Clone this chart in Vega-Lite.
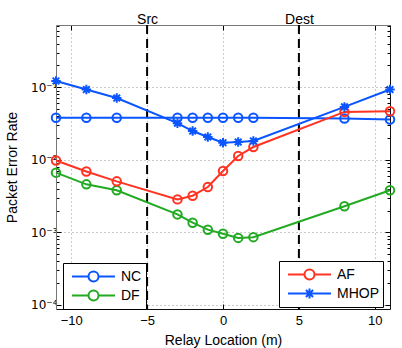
{
  "$schema": "https://vega.github.io/schema/vega-lite/v6.json",
  "autosize": {"type": "none"},
  "width": 334,
  "height": 284,
  "padding": {"left": 56, "top": 25, "right": 12, "bottom": 39},
  "config": {
    "font": "Liberation Sans",
    "view": {"stroke": null},
    "axis": {"labelFont": "Liberation Sans", "titleFont": "Liberation Sans", "labelColor": "#000", "titleColor": "#000", "titleFontWeight": "normal", "titleFontSize": 14, "labelFontSize": 13},
    "legend": {"labelFont": "Liberation Sans", "labelFontSize": 14, "labelColor": "#000"}
  },
  "datasets": {
    "pe": [
      {"x": -11, "v": 0.038, "s": "NC"}, {"x": -9, "v": 0.038, "s": "NC"}, {"x": -7, "v": 0.038, "s": "NC"},
      {"x": -3, "v": 0.038, "s": "NC"}, {"x": -2, "v": 0.038, "s": "NC"}, {"x": -1, "v": 0.038, "s": "NC"},
      {"x": 0, "v": 0.038, "s": "NC"}, {"x": 1, "v": 0.038, "s": "NC"}, {"x": 2, "v": 0.038, "s": "NC"},
      {"x": 8, "v": 0.037, "s": "NC"}, {"x": 11, "v": 0.036, "s": "NC"},
      {"x": -11, "v": 0.00665, "s": "DF"}, {"x": -9, "v": 0.00459, "s": "DF"}, {"x": -7, "v": 0.0038, "s": "DF"},
      {"x": -3, "v": 0.00177, "s": "DF"}, {"x": -2, "v": 0.00136, "s": "DF"}, {"x": -1, "v": 0.00109, "s": "DF"},
      {"x": 0, "v": 0.00096, "s": "DF"}, {"x": 1, "v": 0.00084, "s": "DF"}, {"x": 2, "v": 0.00086, "s": "DF"},
      {"x": 8, "v": 0.00229, "s": "DF"}, {"x": 11, "v": 0.0038, "s": "DF"},
      {"x": -11, "v": 0.0098, "s": "AF"}, {"x": -9, "v": 0.0069, "s": "AF"}, {"x": -7, "v": 0.00505, "s": "AF"},
      {"x": -3, "v": 0.00285, "s": "AF"}, {"x": -2, "v": 0.0032, "s": "AF"}, {"x": -1, "v": 0.00422, "s": "AF"},
      {"x": 0, "v": 0.007, "s": "AF"}, {"x": 1, "v": 0.0113, "s": "AF"}, {"x": 2, "v": 0.015, "s": "AF"},
      {"x": 8, "v": 0.0457, "s": "AF"}, {"x": 11, "v": 0.0467, "s": "AF"},
      {"x": -11, "v": 0.122, "s": "MHOP"}, {"x": -9, "v": 0.093, "s": "MHOP"}, {"x": -7, "v": 0.071, "s": "MHOP"},
      {"x": -3, "v": 0.032, "s": "MHOP"}, {"x": -2, "v": 0.0249, "s": "MHOP"}, {"x": -1, "v": 0.0206, "s": "MHOP"},
      {"x": 0, "v": 0.0172, "s": "MHOP"}, {"x": 1, "v": 0.0176, "s": "MHOP"}, {"x": 2, "v": 0.0182, "s": "MHOP"},
      {"x": 8, "v": 0.0536, "s": "MHOP"}, {"x": 11, "v": 0.093, "s": "MHOP"}
    ],
    "marks": [{"x": -5, "name": "Src"}, {"x": 5, "name": "Dest"}]
  },
  "resolve": {
    "scale": {"color": "independent"},
    "axis": {"x": "independent", "y": "independent"},
    "legend": {"color": "independent"}
  },
  "layer": [
    {
      "data": {"name": "marks"},
      "mark": {"type": "rule", "color": "#000", "strokeWidth": 2, "strokeDash": [9, 5]},
      "encoding": {
        "x": {"field": "x", "type": "quantitative", "scale": {"domain": [-11, 11], "nice": false, "zero": false}, "axis": null}
      }
    },
    {
      "data": {"name": "pe"},
      "transform": [{"filter": "datum.s === 'NC' || datum.s === 'DF'"}],
      "encoding": {
        "x": {
          "field": "x", "type": "quantitative",
          "scale": {"domain": [-11, 11], "nice": false, "zero": false},
          "axis": {
            "orient": "bottom", "title": "Relay Location (m)", "values": [-10, -5, 0, 5, 10],
            "labelExpr": "datum.value < 0 ? '\u2212' + abs(datum.value) : '' + datum.value",
            "tickSize": -5, "tickColor": "#000", "labelPadding": 10,
            "domainColor": "#111", "domainWidth": 1,
            "grid": true, "gridDash": [1, 3], "gridColor": "#999", "gridWidth": 1,
            "titleY": 31, "titleBaseline": "middle"
          }
        },
        "y": {
          "field": "v", "type": "quantitative",
          "scale": {"type": "log", "domain": [0.000088, 0.72], "nice": false},
          "axis": {
            "orient": "left", "title": "Packet Error Rate",
            "values": [0.0001, 0.0002, 0.0003, 0.0004, 0.0005, 0.0006, 0.0007, 0.0008, 0.0009, 0.001, 0.002, 0.003, 0.004, 0.005, 0.006, 0.007, 0.008, 0.009, 0.01, 0.02, 0.03, 0.04, 0.05, 0.06, 0.07, 0.08, 0.09, 0.1, 0.2, 0.3, 0.4, 0.5, 0.6, 0.7],
            "labelExpr": "datum.value == 0.0001 ? '10\u207b\u2074' : datum.value == 0.001 ? '10\u207b\u00b3' : datum.value == 0.01 ? '10\u207b\u00b2' : datum.value == 0.1 ? '10\u207b\u00b9' : ''",
            "labelFont": "DejaVu Sans", "labelFontSize": 12,
            "tickSize": {"condition": {"test": "indexof([0.0001, 0.001, 0.01, 0.1], datum.value) >= 0", "value": -5}, "value": -3},
            "tickColor": "#000", "labelPadding": 4,
            "domainColor": "#777", "domainWidth": 1,
            "grid": true, "gridDash": [1, 3], "gridColor": "#999", "gridWidth": 1,
            "gridOpacity": {"condition": {"test": "indexof([0.0001, 0.001, 0.01, 0.1], datum.value) >= 0", "value": 1}, "value": 0},
            "titleX": -44, "titleY": 142, "titleBaseline": "middle", "titleAngle": -90
          }
        },
        "color": {
          "field": "s", "type": "nominal",
          "scale": {"domain": ["NC", "DF"], "range": ["#0a55ff", "#22aa22"]},
          "legend": {
            "title": null, "orient": "none", "legendX": 7, "legendY": 238,
            "symbolSize": 289, "labelOffset": 35, "rowPadding": 0, "padding": 4,
            "strokeColor": "#000", "fillColor": "#fff", "cornerRadius": 0,
            "symbolStrokeWidth": 2, "symbolFillColor": "transparent",
            "symbolType": "M-0.53,0L1.41,0M2.59,0L4.53,0M2.59,0A0.59,0.59,0,1,1,1.41,0A0.59,0.59,0,1,1,2.59,0Z"
          }
        }
      },
      "layer": [
        {"mark": {"type": "line", "strokeWidth": 2}},
        {"mark": {"type": "point", "filled": false, "strokeWidth": 2, "size": 72, "shape": "circle", "opacity": 1}}
      ]
    },
    {
      "data": {"name": "pe"},
      "transform": [{"filter": "datum.s === 'AF' || datum.s === 'MHOP'"}],
      "encoding": {
        "x": {
          "field": "x", "type": "quantitative",
          "scale": {"domain": [-11, 11], "nice": false, "zero": false},
          "axis": {
            "orient": "top", "title": null, "values": [-10, -5, 0, 5, 10],
            "labelExpr": "datum.value == -5 ? 'Src' : datum.value == 5 ? 'Dest' : ''",
            "labelFontSize": 14, "tickSize": -5, "tickColor": "#000", "labelPadding": 4,
            "domainColor": "#777", "grid": false
          }
        },
        "y": {
          "field": "v", "type": "quantitative",
          "scale": {"type": "log", "domain": [0.000088, 0.72], "nice": false},
          "axis": {
            "orient": "right", "title": null, "labels": false, "grid": false,
            "values": [0.0001, 0.0002, 0.0003, 0.0004, 0.0005, 0.0006, 0.0007, 0.0008, 0.0009, 0.001, 0.002, 0.003, 0.004, 0.005, 0.006, 0.007, 0.008, 0.009, 0.01, 0.02, 0.03, 0.04, 0.05, 0.06, 0.07, 0.08, 0.09, 0.1, 0.2, 0.3, 0.4, 0.5, 0.6, 0.7],
            "tickSize": {"condition": {"test": "indexof([0.0001, 0.001, 0.01, 0.1], datum.value) >= 0", "value": -5}, "value": -3},
            "tickColor": "#000", "domainColor": "#111"
          }
        },
        "color": {
          "field": "s", "type": "nominal",
          "scale": {"domain": ["AF", "MHOP"], "range": ["#ff3322", "#0a55ff"]},
          "legend": {
            "title": null, "orient": "none", "legendX": 223, "legendY": 236,
            "symbolSize": 289, "labelOffset": 35, "rowPadding": 0, "padding": 4,
            "strokeColor": "#000", "fillColor": "#fff", "cornerRadius": 0,
            "symbolStrokeWidth": 2, "symbolFillColor": "transparent",
            "symbolType": "M-0.53,0L1.41,0M2.59,0L4.53,0M2.59,0A0.59,0.59,0,1,1,1.41,0A0.59,0.59,0,1,1,2.59,0Z",
            "encode": {
              "symbols": {
                "update": {
                  "shape": {"signal": "datum.value === 'AF' ? 'M-0.53,0L1.41,0M2.59,0L4.53,0M2.59,0A0.59,0.59,0,1,1,1.41,0A0.59,0.59,0,1,1,2.59,0Z' : 'M-0.53,0L4.53,0M2,-0.6L2,0.6M1.58,-0.42L2.42,0.42M1.58,0.42L2.42,-0.42'"}
                }
              }
            }
          }
        }
      },
      "layer": [
        {"mark": {"type": "line", "strokeWidth": 2}},
        {
          "transform": [{"filter": "datum.s === 'AF'"}],
          "mark": {"type": "point", "filled": false, "strokeWidth": 2, "size": 72, "shape": "circle", "opacity": 1}
        },
        {
          "transform": [{"filter": "datum.s === 'MHOP'"}],
          "mark": {"type": "point", "filled": false, "strokeWidth": 2, "size": 90, "opacity": 1, "shape": "M-1,0L1,0M0,-1L0,1M-0.7,-0.7L0.7,0.7M-0.7,0.7L0.7,-0.7"}
        }
      ]
    }
  ]
}
